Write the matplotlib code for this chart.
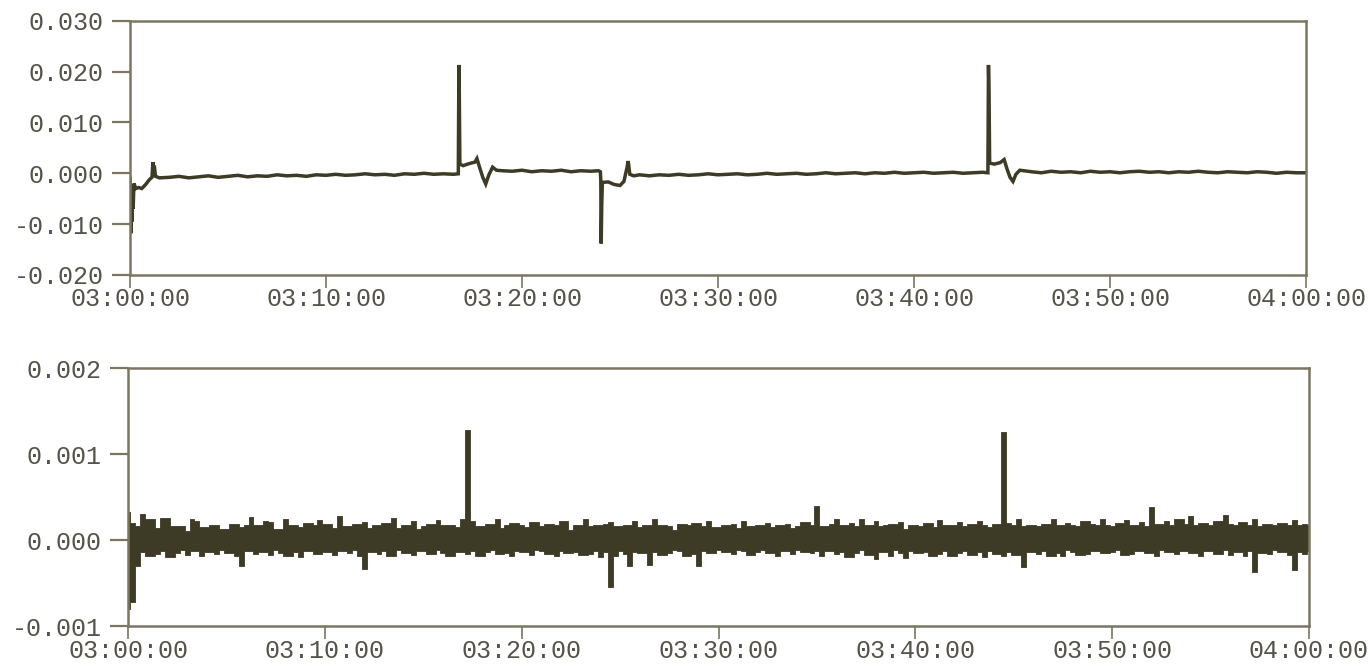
import matplotlib
matplotlib.use("Agg")
import matplotlib.pyplot as plt
import numpy as np

# ---------------- data ----------------
time_tick_min = [0, 10, 20, 30, 40, 50, 60]
time_tick_labels = ["03:00:00", "03:10:00", "03:20:00", "03:30:00",
                    "03:40:00", "03:50:00", "04:00:00"]

top_yticks = [-0.020, -0.010, 0.000, 0.010, 0.020, 0.030]
top_ylabels = ["-0.020", "-0.010", "0.000", "0.010", "0.020", "0.030"]
bot_yticks = [-0.001, 0.000, 0.001, 0.002]
bot_ylabels = ["-0.001", "0.000", "0.001", "0.002"]

# upper panel: time (minutes after 03:00) and value
top_t = [0.00, 0.04, 0.07, 0.10, 0.13, 0.16, 0.20, 0.30, 0.45, 0.60, 0.80, 1.00,
         1.12, 1.17, 1.20, 1.24, 1.30, 1.50,
         2.0, 2.5, 3.0, 3.5, 4.0, 4.5, 5.0, 5.5, 6.0, 6.5, 7.0, 7.5, 8.0, 8.5,
         9.0, 9.5, 10.0, 10.5, 11.0, 11.5, 12.0, 12.5, 13.0, 13.5, 14.0, 14.5,
         15.0, 15.5, 16.0, 16.5,
         16.75, 16.78, 16.80, 16.83, 17.0, 17.3, 17.6, 17.7, 17.85, 18.0, 18.15,
         18.3, 18.5, 18.7,
         19.0, 19.5, 20.0, 20.5, 21.0, 21.5, 22.0, 22.5, 23.0, 23.5, 23.9,
         24.0, 24.02, 24.04, 24.07, 24.1, 24.4, 24.7, 25.0, 25.2, 25.35, 25.42,
         25.5, 25.7,
         26.0, 26.5, 27.0, 27.5, 28.0, 28.5, 29.0, 29.5, 30.0, 30.5, 31.0, 31.5,
         32.0, 32.5, 33.0, 33.5, 34.0, 34.5, 35.0, 35.5, 36.0, 36.5, 37.0, 37.5,
         38.0, 38.5, 39.0, 39.5, 40.0, 40.5, 41.0, 41.5, 42.0, 42.5, 43.0, 43.5,
         43.77, 43.80, 43.83, 43.86, 44.1, 44.4, 44.6, 44.75, 44.9, 45.05, 45.2,
         45.4,
         46.0, 46.5, 47.0, 47.5, 48.0, 48.5, 49.0, 49.5, 50.0, 50.5, 51.0, 51.5,
         52.0, 52.5, 53.0, 53.5, 54.0, 54.5, 55.0, 55.5, 56.0, 56.5, 57.0, 57.5,
         58.0, 58.5, 59.0, 59.5, 60.0]
top_v = [-0.0010, -0.0118, -0.0030, -0.0095, -0.0025, -0.0070, -0.0020, -0.0030,
         -0.0028, -0.0030, -0.0022, -0.0012,
         -0.0008, 0.0022, -0.0005, 0.0015, -0.0006, -0.0009,
         -0.0008, -0.0006, -0.0009, -0.0007, -0.0005, -0.0008, -0.0006, -0.0004,
         -0.0007, -0.0005, -0.0006, -0.0003, -0.0005, -0.0004, -0.0006, -0.0003,
         -0.0004, -0.0002, -0.0004, -0.0003, -0.0001, -0.0003, -0.0002, -0.0004,
         -0.0001, -0.0002, 0.0000, -0.0002, -0.0001, -0.0002,
         -0.0001, 0.0213, 0.0165, 0.0018, 0.0015, 0.0019, 0.0022, 0.0029, 0.0010,
         -0.0008, -0.0021, -0.0004, 0.0012, 0.0006,
         0.0005, 0.0004, 0.0006, 0.0003, 0.0005, 0.0004, 0.0006, 0.0003, 0.0005,
         0.0004, 0.0005,
         0.0003, -0.0015, -0.0138, -0.0060, -0.0018, -0.0017, -0.0022, -0.0024,
         -0.0016, 0.0010, 0.0024, -0.0002, -0.0005,
         -0.0003, -0.0005, -0.0003, -0.0004, -0.0002, -0.0004, -0.0003, -0.0001,
         -0.0003, -0.0002, -0.0001, -0.0003, -0.0002, 0.0000, -0.0002, -0.0001,
         0.0000, -0.0002, -0.0001, 0.0001, -0.0001, 0.0000, 0.0001, -0.0001,
         0.0001, 0.0000, 0.0002, 0.0000, 0.0001, 0.0002, 0.0000, 0.0001,
         0.0002, 0.0000, 0.0001, 0.0002,
         0.0001, 0.0213, 0.0150, 0.0020, 0.0018, 0.0021, 0.0027, 0.0008, -0.0008,
         -0.0016, -0.0002, 0.0006,
         0.0003, 0.0001, 0.0004, 0.0002, 0.0003, 0.0001, 0.0004, 0.0002, 0.0003,
         0.0001, 0.0003, 0.0004, 0.0002, 0.0003, 0.0001, 0.0003, 0.0002, 0.0004,
         0.0002, 0.0001, 0.0003, 0.0002, 0.0001, 0.0003, 0.0002, 0.0000, 0.0002,
         0.0001, 0.0001]

# lower panel: upper and lower envelope of the noise band, every 15 s
bot_t = np.linspace(0, 60, 241)
bot_hi = [
    0.00033, 0.00020, 0.00016, 0.00030, 0.00024, 0.00024, 0.00014, 0.00026, 0.00026, 0.00016,
    0.00016, 0.00016, 0.00011, 0.00024, 0.00022, 0.00015, 0.00015, 0.00018, 0.00018, 0.00013,
    0.00013, 0.00019, 0.00019, 0.00015, 0.00017, 0.00027, 0.00017, 0.00017, 0.00022, 0.00021,
    0.00013, 0.00013, 0.00025, 0.00018, 0.00018, 0.00015, 0.00020, 0.00020, 0.00017, 0.00023,
    0.00019, 0.00019, 0.00014, 0.00028, 0.00016, 0.00016, 0.00019, 0.00019, 0.00021, 0.00014,
    0.00017, 0.00017, 0.00020, 0.00020, 0.00026, 0.00014, 0.00018, 0.00018, 0.00022, 0.00013,
    0.00016, 0.00019, 0.00019, 0.00023, 0.00017, 0.00017, 0.00018, 0.00015, 0.00025, 0.00128,
    0.00022, 0.00016, 0.00016, 0.00019, 0.00019, 0.00024, 0.00014, 0.00017, 0.00020, 0.00020,
    0.00018, 0.00015, 0.00021, 0.00021, 0.00016, 0.00019, 0.00019, 0.00017, 0.00022, 0.00022,
    0.00012, 0.00018, 0.00018, 0.00024, 0.00016, 0.00017, 0.00017, 0.00019, 0.00021, 0.00016,
    0.00016, 0.00018, 0.00018, 0.00022, 0.00015, 0.00017, 0.00017, 0.00024, 0.00018, 0.00018,
    0.00016, 0.00012, 0.00019, 0.00019, 0.00017, 0.00020, 0.00020, 0.00016, 0.00022, 0.00015,
    0.00015, 0.00017, 0.00017, 0.00019, 0.00014, 0.00022, 0.00016, 0.00016, 0.00018, 0.00018,
    0.00020, 0.00015, 0.00017, 0.00017, 0.00019, 0.00014, 0.00016, 0.00021, 0.00021, 0.00018,
    0.00040, 0.00016, 0.00016, 0.00019, 0.00025, 0.00017, 0.00017, 0.00020, 0.00016, 0.00024,
    0.00018, 0.00018, 0.00022, 0.00016, 0.00017, 0.00019, 0.00019, 0.00021, 0.00013, 0.00018,
    0.00018, 0.00016, 0.00020, 0.00020, 0.00015, 0.00023, 0.00017, 0.00018, 0.00018, 0.00021,
    0.00016, 0.00019, 0.00019, 0.00022, 0.00017, 0.00015, 0.00019, 0.00019, 0.00126, 0.00020,
    0.00018, 0.00024, 0.00016, 0.00017, 0.00017, 0.00016, 0.00019, 0.00019, 0.00024, 0.00017,
    0.00017, 0.00020, 0.00018, 0.00016, 0.00022, 0.00022, 0.00019, 0.00017, 0.00025, 0.00017,
    0.00016, 0.00020, 0.00020, 0.00023, 0.00018, 0.00018, 0.00021, 0.00016, 0.00038, 0.00019,
    0.00019, 0.00022, 0.00018, 0.00024, 0.00024, 0.00019, 0.00028, 0.00017, 0.00020, 0.00020,
    0.00018, 0.00022, 0.00022, 0.00029, 0.00019, 0.00017, 0.00021, 0.00021, 0.00018, 0.00024,
    0.00016, 0.00019, 0.00019, 0.00017, 0.00020, 0.00020, 0.00018, 0.00023, 0.00017, 0.00019,
    0.00017]
bot_lo = [
    -0.00080, -0.00072, -0.00030, -0.00014, -0.00018, -0.00018, -0.00016, -0.00013, -0.00020, -0.00020,
    -0.00015, -0.00012, -0.00017, -0.00013, -0.00013, -0.00019, -0.00014, -0.00014, -0.00016, -0.00012,
    -0.00015, -0.00015, -0.00018, -0.00030, -0.00013, -0.00013, -0.00016, -0.00014, -0.00014, -0.00017,
    -0.00012, -0.00015, -0.00019, -0.00019, -0.00014, -0.00020, -0.00013, -0.00013, -0.00016, -0.00016,
    -0.00014, -0.00014, -0.00017, -0.00013, -0.00013, -0.00015, -0.00012, -0.00018, -0.00034, -0.00014,
    -0.00014, -0.00016, -0.00013, -0.00019, -0.00019, -0.00012, -0.00015, -0.00015, -0.00017, -0.00013,
    -0.00013, -0.00016, -0.00016, -0.00012, -0.00015, -0.00018, -0.00018, -0.00014, -0.00014, -0.00016,
    -0.00013, -0.00019, -0.00019, -0.00014, -0.00012, -0.00016, -0.00016, -0.00015, -0.00018, -0.00013,
    -0.00014, -0.00014, -0.00017, -0.00012, -0.00013, -0.00016, -0.00016, -0.00019, -0.00013, -0.00015,
    -0.00015, -0.00014, -0.00017, -0.00017, -0.00016, -0.00013, -0.00020, -0.00014, -0.00055, -0.00018,
    -0.00013, -0.00016, -0.00030, -0.00014, -0.00015, -0.00015, -0.00029, -0.00014, -0.00017, -0.00017,
    -0.00015, -0.00012, -0.00013, -0.00018, -0.00018, -0.00016, -0.00030, -0.00013, -0.00015, -0.00015,
    -0.00012, -0.00014, -0.00014, -0.00016, -0.00012, -0.00013, -0.00017, -0.00017, -0.00014, -0.00012,
    -0.00015, -0.00015, -0.00018, -0.00013, -0.00013, -0.00016, -0.00012, -0.00014, -0.00014, -0.00015,
    -0.00013, -0.00019, -0.00013, -0.00013, -0.00016, -0.00014, -0.00020, -0.00020, -0.00015, -0.00012,
    -0.00017, -0.00017, -0.00022, -0.00014, -0.00014, -0.00018, -0.00012, -0.00015, -0.00021, -0.00013,
    -0.00015, -0.00015, -0.00014, -0.00018, -0.00018, -0.00016, -0.00013, -0.00019, -0.00019, -0.00015,
    -0.00013, -0.00017, -0.00017, -0.00014, -0.00020, -0.00013, -0.00016, -0.00016, -0.00018, -0.00014,
    -0.00017, -0.00017, -0.00031, -0.00014, -0.00014, -0.00016, -0.00013, -0.00018, -0.00018, -0.00015,
    -0.00019, -0.00012, -0.00014, -0.00017, -0.00017, -0.00016, -0.00013, -0.00013, -0.00015, -0.00015,
    -0.00014, -0.00012, -0.00017, -0.00017, -0.00016, -0.00013, -0.00013, -0.00015, -0.00015, -0.00018,
    -0.00012, -0.00014, -0.00014, -0.00016, -0.00013, -0.00013, -0.00015, -0.00015, -0.00019, -0.00013,
    -0.00013, -0.00016, -0.00016, -0.00012, -0.00017, -0.00014, -0.00014, -0.00018, -0.00013, -0.00037,
    -0.00015, -0.00015, -0.00016, -0.00012, -0.00014, -0.00014, -0.00017, -0.00035, -0.00014, -0.00016,
    -0.00013]

# ---------------- style ----------------
TRACE = "#3d3a26"
FRAME = "#7a7662"
TEXT = "#55524a"
FONT = "Liberation Mono"

W, H = 1372, 667
fig = plt.figure(figsize=(W / 100, H / 100), dpi=100)
fig.patch.set_facecolor("white")


def style(ax, yt, yl):
    ax.set_xlim(0, 60)
    ax.set_xticks(time_tick_min)
    ax.set_xticklabels(time_tick_labels)
    ax.set_yticks(yt)
    ax.set_yticklabels(yl)
    for s in ax.spines.values():
        s.set_color(FRAME)
        s.set_linewidth(1.8)
    ax.tick_params(axis="y", direction="out", length=13, width=1.6, color=FRAME,
                   pad=6, labelsize=18, labelcolor=TEXT)
    ax.tick_params(axis="x", direction="out", length=9, width=1.2, color=FRAME,
                   pad=0, labelsize=18, labelcolor=TEXT)
    for lab in ax.get_xticklabels() + ax.get_yticklabels():
        lab.set_family(FONT)


ax1 = fig.add_axes([130 / W, 1 - 275 / H, 1176 / W, 254.3 / H])
ax1.plot(top_t, top_v, color=TRACE, lw=2.5, solid_joinstyle="miter")
ax1.set_ylim(-0.020, 0.030)
style(ax1, top_yticks, top_ylabels)

ax2 = fig.add_axes([128 / W, 1 - 626 / H, 1181 / W, 257.7 / H])
ax2.fill_between(bot_t, bot_lo, bot_hi, step="mid", color=TRACE, lw=0.6,
                 edgecolor=TRACE)
ax2.set_ylim(-0.001, 0.002)
style(ax2, bot_yticks, bot_ylabels)

fig.savefig("out.png", dpi=100, facecolor="white")
